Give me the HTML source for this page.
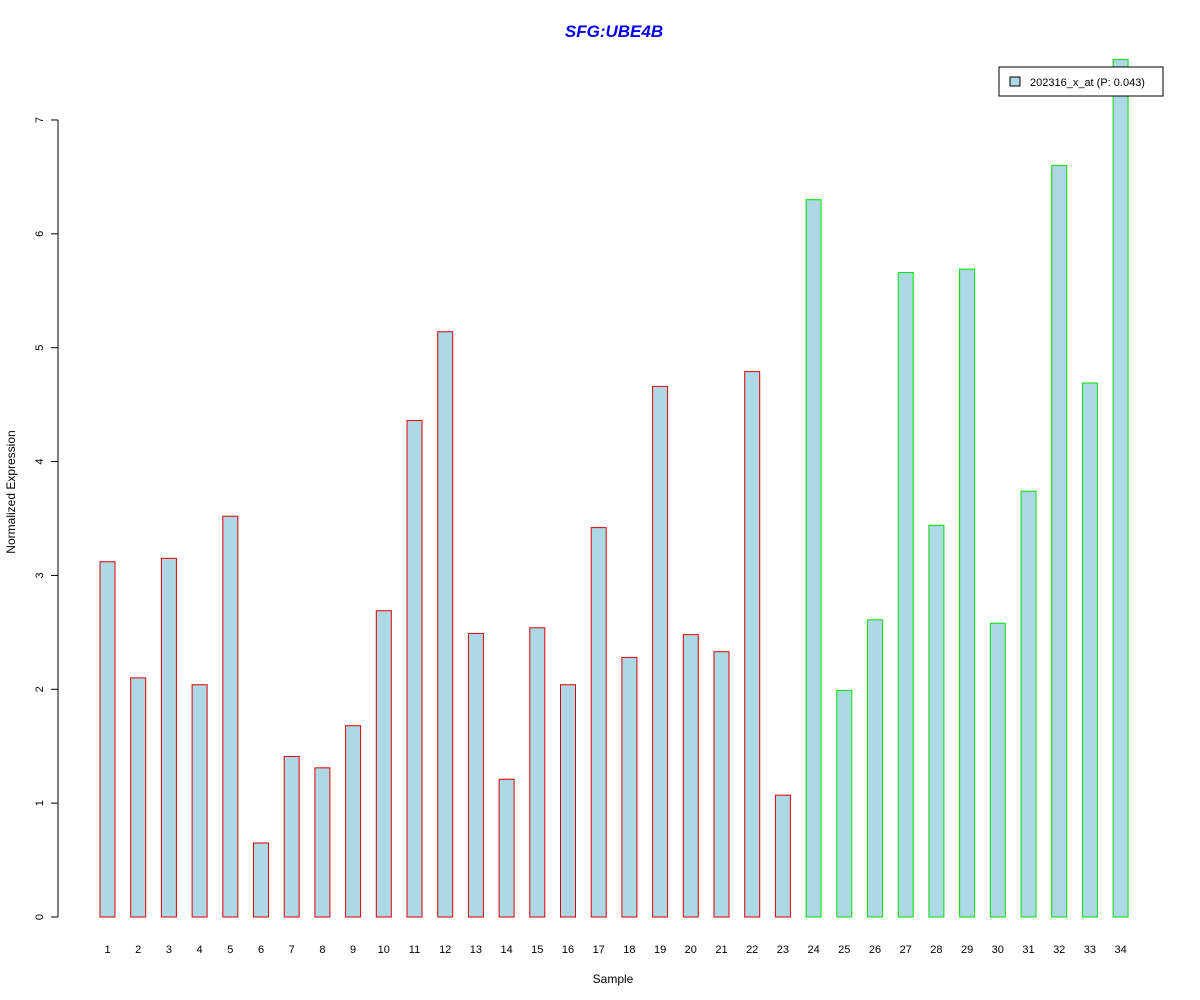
<!DOCTYPE html>
<html><head><meta charset="utf-8"><style>
body{margin:0;background:#fff;font-family:"Liberation Sans",sans-serif}
svg{display:block}
</style></head><body>
<svg id="chart" width="1200" height="1000" xmlns="http://www.w3.org/2000/svg">
<rect width="1200" height="1000" fill="#fff"/>
<text x="614" y="37" text-anchor="middle" font-size="17" font-weight="bold" font-style="italic" fill="#0000ee">SFG:UBE4B</text>
<text x="613" y="983" text-anchor="middle" font-size="12">Sample</text>
<text transform="translate(15,492) rotate(-90)" text-anchor="middle" font-size="12">Normalized Expression</text>
<g id="yaxis"></g>
<g id="xaxis"></g>
<g id="bars"></g>
<g>
<rect x="999" y="67" width="164" height="29" fill="#fff" stroke="#000"/>
<rect x="1010" y="77" width="10" height="9" fill="#add8e6" stroke="#000"/>
<text x="1030" y="86" font-size="11">202316_x_at (P: 0.043)</text>
</g>
</svg>
<script>
const categories=["1","2","3","4","5","6","7","8","9","10","11","12","13","14","15","16","17","18","19","20","21","22","23","24","25","26","27","28","29","30","31","32","33","34"];
const values=[3.12,2.10,3.15,2.04,3.52,0.65,1.41,1.31,1.68,2.69,4.36,5.14,2.49,1.21,2.54,2.04,3.42,2.28,4.66,2.48,2.33,4.79,1.07,6.30,1.99,2.61,5.66,3.44,5.69,2.58,3.74,6.60,4.69,7.53];
const groups=["a","a","a","a","a","a","a","a","a","a","a","a","a","a","a","a","a","a","a","a","a","a","a","b","b","b","b","b","b","b","b","b","b","b"];
const yTicks=[0,1,2,3,4,5,6,7];
const NS="http://www.w3.org/2000/svg";
const y=v=>917-v*113.86;
const x=i=>107.5+i*30.7;
function mk(t,a,p){const e=document.createElementNS(NS,t);for(const k in a)e.setAttribute(k,a[k]);p.appendChild(e);return e;}
const ya=document.getElementById('yaxis');
mk('line',{x1:58,x2:58,y1:y(0),y2:y(7),stroke:'#000'},ya);
yTicks.forEach(t=>{
 const l=mk('line',{x1:51,x2:58,y1:y(t),y2:y(t),stroke:'#000'},ya);
 
 
 const tx=mk('text',{transform:`translate(43,${y(t)}) rotate(-90)`,'text-anchor':'middle','font-size':11},ya);
 
 
 tx.textContent=t;
});
const xa=document.getElementById('xaxis'),bg=document.getElementById('bars');
categories.forEach((c,i)=>{
 const t=mk('text',{x:x(i),y:953,'text-anchor':'middle','font-size':11},xa);
 
 
 t.textContent=c;
 const r=mk('rect',{x:x(i)-7.5,y:y(values[i]),width:15,height:y(0)-y(values[i]),fill:'#add8e6',stroke:groups[i]==='a'?'#e00000':'#00e000'},bg);
 
 
});
</script>
</body></html>
